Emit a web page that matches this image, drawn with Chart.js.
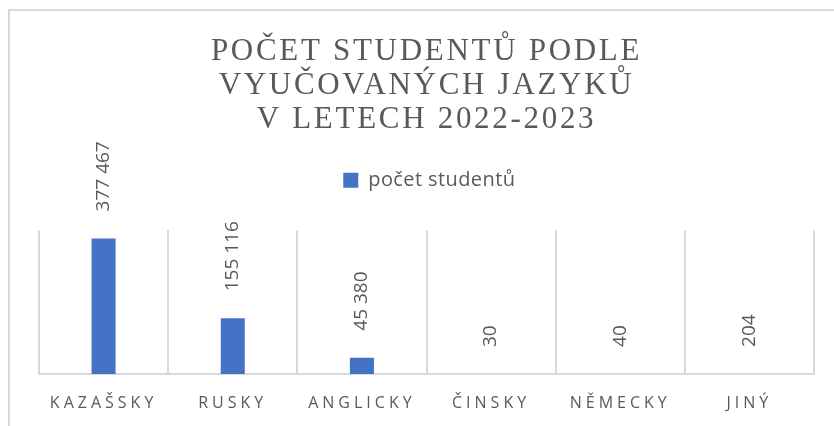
<!DOCTYPE html>
<html>
<head>
<meta charset="utf-8">
<script src="https://cdn.jsdelivr.net/npm/chart.js@4"></script>
<style>
  html, body { margin: 0; padding: 0; background: #fff; overflow: hidden; }
  #wrap { position: relative; width: 834px; height: 426px; }
  #frame { position: absolute; left: 8px; top: 9px; width: 900px; height: 500px;
           border-top: 2px solid #d9d9d9; border-left: 2px solid #d9d9d9; }
  canvas { position: absolute; left: 0; top: 0; }
</style>
</head>
<body>
<div id="wrap">
  <div id="frame"></div>
  <canvas id="graf" width="834" height="426"></canvas>
</div>
<script>
// data
const jazyky = ['KAZAŠSKY', 'RUSKY', 'ANGLICKY', 'ČINSKY', 'NĚMECKY', 'JINÝ'];
const pocetStudentu = [377467, 155116, 45380, 30, 40, 204];
const nazevSerie = 'počet studentů';
const titulek = ['POČET STUDENTŮ PODLE', 'VYUČOVANÝCH JAZYKŮ', 'V LETECH 2022-2023'];
const osaMax = 400000;

const seda = '#595959';
const mrizka = '#d9d9d9';

function formatCislo(v) {
    return String(v).replace(/\B(?=(\d{3})+(?!\d))/g, ' ');
}

// letter spacing for title, axis labels and legend (canvas letterSpacing)
const spacingPlugin = {
    id: 'rozestup',
    beforeDraw(chart) {
        const ctx = chart.ctx;
        if (ctx._rozestup) return;
        ctx._rozestup = true;
        const puvodni = ctx.fillText;
        ctx.fillText = function () {
            const f = this.font;
            const stary = this.letterSpacing;
            if (f.indexOf('Liberation Serif') >= 0) this.letterSpacing = '2.7px';
            else if (f.indexOf('16px') >= 0) this.letterSpacing = '4px';
            else if (f.indexOf('20px') >= 0) this.letterSpacing = '0.4px';
            else this.letterSpacing = '0px';
            puvodni.apply(this, arguments);
            this.letterSpacing = stary;
        };
    }
};

// extra room under the legend
const legendaPlugin = {
    id: 'legendaMezera',
    beforeLayout(chart) {
        const leg = chart.legend;
        if (leg && !leg._upraveno) {
            leg._upraveno = true;
            const fit = leg.fit;
            leg.fit = function () {
                fit.call(this);
                this.height += 30;
            };
        }
    }
};

// value labels rotated above the bars
const popiskyPlugin = {
    id: 'popisky',
    afterDatasetsDraw(chart) {
        const ctx = chart.ctx;
        const meta = chart.getDatasetMeta(0);
        ctx.save();
        ctx.font = '19px "Open Sans"';
        ctx.fillStyle = seda;
        ctx.textAlign = 'left';
        ctx.textBaseline = 'middle';
        meta.data.forEach(function (bar, i) {
            ctx.save();
            ctx.translate(bar.x, bar.y - 27);
            ctx.rotate(-Math.PI / 2);
            ctx.fillText(formatCislo(pocetStudentu[i]), 0, 0);
            ctx.restore();
        });
        ctx.restore();
    }
};

var ctx = document.getElementById('graf').getContext('2d');

var graf = new Chart(ctx, {
    type: 'bar',
    data: {
        labels: jazyky,
        datasets: [{
            label: nazevSerie,
            data: pocetStudentu,
            backgroundColor: '#4472C4',
            borderWidth: 0,
            categoryPercentage: 1,
            barPercentage: 0.186
        }]
    },
    options: {
        responsive: false,
        animation: false,
        layout: {
            padding: { left: 39, right: 20, top: 0, bottom: 0 }
        },
        plugins: {
            title: {
                display: true,
                text: titulek,
                color: seda,
                font: { family: 'Liberation Serif', size: 31, weight: 'normal', lineHeight: 1.1 },
                padding: { top: 35, bottom: 20 }
            },
            legend: {
                display: true,
                position: 'top',
                labels: {
                    color: seda,
                    font: { family: 'Open Sans', size: 20 },
                    boxWidth: 15,
                    boxHeight: 15,
                    padding: 13
                }
            },
            tooltip: { enabled: false }
        },
        scales: {
            x: {
                grid: {
                    color: mrizka,
                    lineWidth: 2,
                    drawTicks: false,
                    offset: true
                },
                border: { display: true, color: mrizka, width: 2 },
                ticks: {
                    color: seda,
                    font: { family: 'Open Sans', size: 16 },
                    padding: 20,
                    maxRotation: 0,
                    autoSkip: false
                },
                afterFit: function (scale) {
                    scale.height = 52;
                }
            },
            y: {
                display: false,
                min: 0,
                max: osaMax
            }
        }
    },
    plugins: [spacingPlugin, legendaPlugin, popiskyPlugin]
});
</script>
</body>
</html>
